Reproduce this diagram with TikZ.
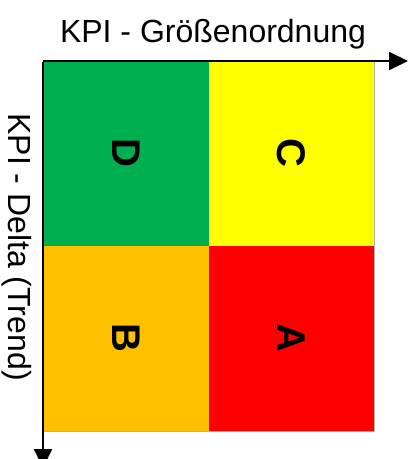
\documentclass[tikz,border=0pt]{standalone}
\usepackage{fontspec}
\setmainfont{Liberation Sans}
\usetikzlibrary{arrows.meta}
\definecolor{qgreen}{HTML}{00B050}
\definecolor{qyellow}{HTML}{FFFF00}
\definecolor{qorange}{HTML}{FFC000}
\definecolor{qred}{HTML}{FF0000}
\tikzset{
  quad/.style={draw=none, minimum width=166pt, minimum height=184.5pt, inner sep=0pt, outer sep=0pt, anchor=north west},
  letter/.style={font=\fontsize{40}{40}\selectfont\bfseries, rotate=-90},
  axislabel/.style={font=\fontsize{32}{32}\selectfont},
  axis/.style={line width=2.2pt, -{Triangle[length=19pt,width=18pt]}}
}
\begin{document}
\begin{tikzpicture}[x=1pt,y=-1pt]
\useasboundingbox (0,0) rectangle (416,459);
\node[quad, fill=qgreen] (d) at (43,61) {};
\node[quad, fill=qyellow, minimum width=165pt] (c) at (209,61) {};
\node[quad, fill=qorange, minimum height=185.5pt] (b) at (43,245.5) {};
\node[quad, fill=qred, minimum width=165pt, minimum height=185.5pt] (a) at (209,245.5) {};
\draw[gray!60, line width=1pt] (c.north east) -- (a.south east) -- (b.south west);
\node[letter] at (d.center) {D};
\node[letter] at (c.center) {C};
\node[letter] at (b.center) {B};
\node[letter] at (a.center) {A};
\coordinate (o) at (43,61);
\coordinate (xend) at (408,61);
\coordinate (yend) at (43,468);
\draw[axis] (o) -- (xend);
\draw[axis] ([yshift=-1.1pt]o) -- (yend);
\node[axislabel, anchor=base] (xl) at (213,42) {KPI - Größenordnung};
\node[axislabel, rotate=-90] (yl) at (17,247) {KPI - Delta (Trend)};
\end{tikzpicture}
\end{document}
